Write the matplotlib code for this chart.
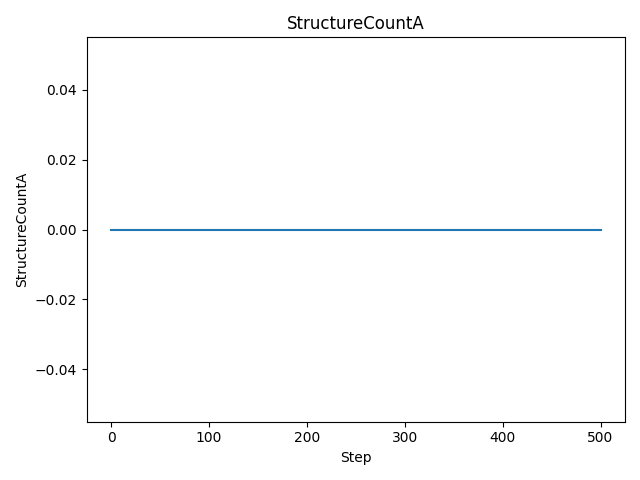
import matplotlib
matplotlib.use('Agg')
import matplotlib.pyplot as plt

steps = [0, 500]
structure_count_a = [0, 0]

fig, ax = plt.subplots(figsize=(6.4, 4.8), dpi=100)
ax.plot(steps, structure_count_a)
ax.set_title('StructureCountA')
ax.set_xlabel('Step')
ax.set_ylabel('StructureCountA')
fig.tight_layout()
fig.savefig('out.png')
